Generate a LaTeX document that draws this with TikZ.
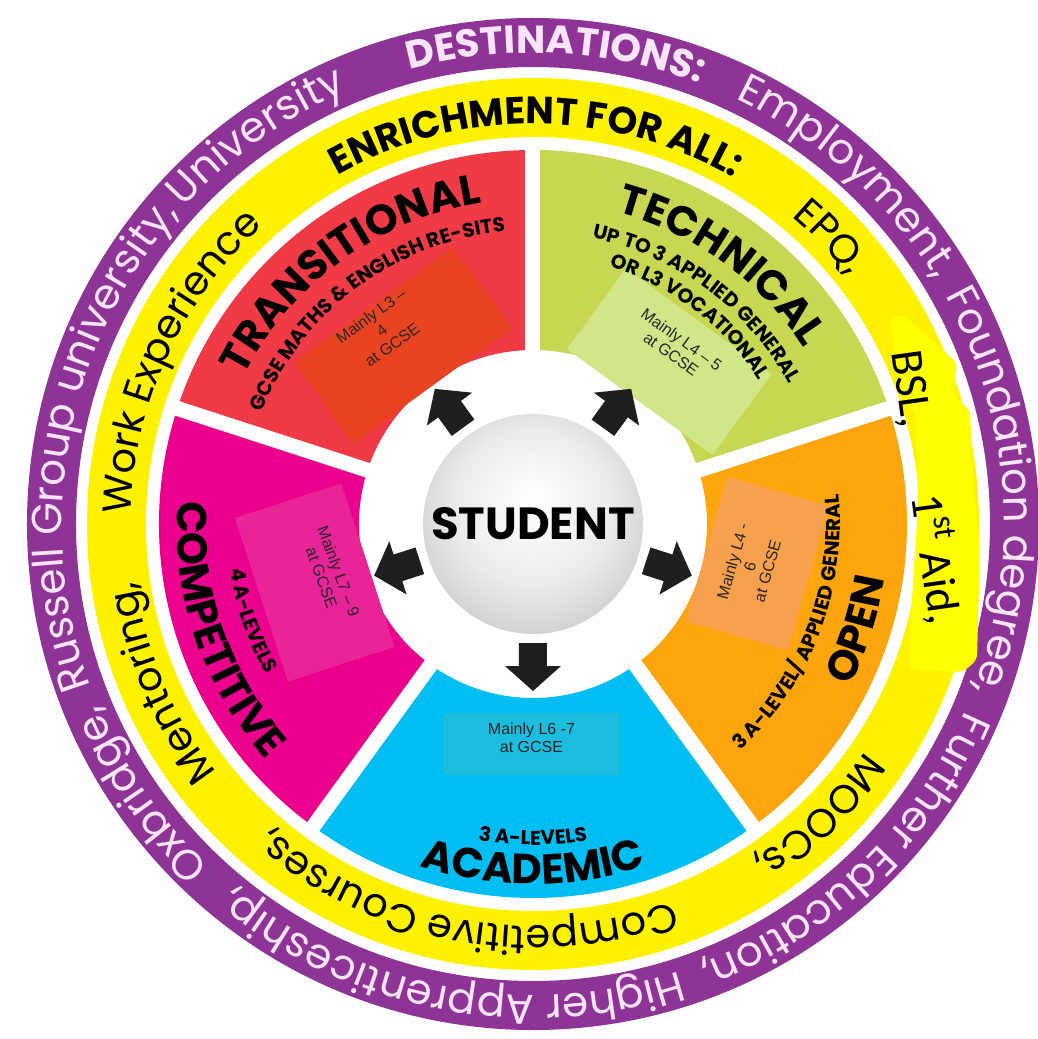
\documentclass[tikz,border=0pt]{standalone}
\usepackage{fontspec}
\setmainfont{Poppins}
\newfontfamily\boxfont{Liberation Sans}
\newfontfamily\aidfont{Carlito}
\usetikzlibrary{decorations.text}
\definecolor{ringpurple}{RGB}{142,52,150}
\definecolor{ringyellow}{RGB}{255,242,0}
\definecolor{ringtext}{RGB}{252,228,252}
\definecolor{transred}{RGB}{240,58,70}
\definecolor{techgreen}{RGB}{199,215,82}
\definecolor{openorange}{RGB}{253,165,12}
\definecolor{acadblue}{RGB}{0,190,242}
\definecolor{compmagenta}{RGB}{234,0,140}
\definecolor{transtint}{RGB}{232,68,34}
\definecolor{techtint}{RGB}{208,230,136}
\definecolor{opentint}{RGB}{247,160,78}
\definecolor{acadtint}{RGB}{28,188,222}
\definecolor{comptint}{RGB}{232,36,150}
\definecolor{aidyellow}{RGB}{255,255,0}
\pgfdeclareradialshading{studentball}{\pgfpoint{0bp}{6bp}}{color(0bp)=(white); color(18bp)=(black!8); color(38bp)=(black!28); color(50bp)=(black!50)}
\newcommand{\ringfont}{\fontsize{21}{25}\selectfont\color{ringtext}}
\newcommand{\destfont}{\bfseries\fontsize{19.5}{24}\selectfont\color{ringtext}}
\newcommand{\enrichfont}{\bfseries\fontsize{19}{23}\selectfont}
\newcommand{\yellowfont}{\fontsize{20}{24}\selectfont}
\newcommand{\titlefont}{\bfseries\fontsize{21}{25}\selectfont}
\newcommand{\subfont}{\bfseries\fontsize{10}{12}\selectfont}
\newcommand{\cwtext}[4]{\path[decorate, decoration={text along path, text align=center, text={|#3|#4}}]({#2+85}:#1)arc[start angle={#2+85}, end angle={#2-85}, radius=#1];}
\newcommand{\ccwtext}[4]{\path[decorate, decoration={text along path, text align=center, text={|#3|#4}}]({#2-85}:#1)arc[start angle={#2-85}, end angle={#2+85}, radius=#1];}

\begin{document}
\begin{tikzpicture}[x=.5pt, y=.5pt,
    gap/.style={white, line width=7.5pt},
    tint/.style={inner sep=0pt},
    grade/.style={font=\boxfont\fontsize{8}{9}\selectfont, align=center, text=black!85, inner sep=0pt}]
    \useasboundingbox(-533, -515)rectangle(505, 524);
    \fill[white](-533, -515)rectangle(505, 524);
    \fill[ringpurple, even odd rule](0, 0)circle[radius=506](0, 0)circle[radius=457];
    \fill[ringyellow, even odd rule](0, 0)circle[radius=446](0, 0)circle[radius=387];
    \foreach \a/\c in {90/transred, 162/compmagenta, 234/acadblue, 306/openorange, 18/techgreen}
        \fill[\c](\a:374)arc[start angle=\a, end angle=\a+72, radius=374]--({\a+72}:174)arc[start angle=\a+72, end angle=\a, radius=174]--cycle;
    \foreach \a in {18, 90, 162, 234, 306}
        \draw[gap](\a:160)--(\a:380);
    \node[tint, fill=transtint, rotate=36, minimum width=98pt, minimum height=50pt](transrect)at(126:221){};
    \node[tint, fill=techtint, rotate=-36, minimum width=90pt, minimum height=50pt](techrect)at(50:212){};
    \node[tint, fill=opentint, rotate=74, minimum width=75pt, minimum height=53pt](openrect)at(-10:228){};
    \node[tint, fill=acadtint, minimum width=88pt, minimum height=31pt](acadrect)at(269.5:220){};
    \node[tint, fill=comptint, rotate=-72, minimum width=86pt, minimum height=56pt](comprect)at(195:226){};
    \node[grade, rotate=36](transgrade)at(128:246){Mainly L3 –\\4\\at GCSE};
    \node[grade, rotate=-36](techgrade)at(51:228){Mainly L4 – 5\\at GCSE};
    \node[grade, rotate=74](opengrade)at(-11:221){Mainly L4 -\\6\\at GCSE};
    \node[grade](acadgrade)at(269.6:214){Mainly L6 -7\\at GCSE};
    \node[grade, rotate=-70](compgrade)at(194:209){Mainly L7 – 9\\at GCSE};
    \cwtext{471}{87.2}{\destfont}{DESTINATIONS:}
    \cwtext{471}{47.9}{\ringfont}{Employment,}
    \cwtext{471}{4.2}{\ringfont}{Foundation degree,}
    \cwtext{471}{-46.3}{\ringfont}{Further Education,}
    \cwtext{471}{-100.7}{\ringfont}{Higher Apprenticeship,}
    \cwtext{471}{-145.4}{\ringfont}{Oxbridge,}
    \cwtext{471}{169.5}{\ringfont}{Russell Group university,}
    \cwtext{471}{125.5}{\ringfont}{University}
    \cwtext{400}{89.6}{\enrichfont}{ENRICHMENT FOR ALL:}
    \cwtext{402}{44}{\yellowfont}{EPQ,}
    \cwtext{402}{-45.6}{\yellowfont}{MOOCs,}
    \cwtext{402}{-100.2}{\yellowfont}{Competitive Courses,}
    \cwtext{402}{-156.8}{\yellowfont}{Mentoring,}
    \cwtext{402}{155.4}{\yellowfont}{Work Experience}
    \cwtext{325}{126}{\titlefont}{TRANSITIONAL}
    \cwtext{294}{126.5}{\subfont}{GCSE MATHS {\&} ENGLISH RE-SITS}
    \cwtext{323}{54}{\titlefont}{TECHNICAL}
    \cwtext{292}{53.5}{\subfont}{UP TO 3 APPLIED GENERAL}
    \cwtext{268}{53}{\subfont}{OR L3 VOCATIONAL}
    \ccwtext{360}{270}{\titlefont}{ACADEMIC}
    \ccwtext{321}{270}{\subfont}{3 A-LEVELS}
    \ccwtext{356}{199}{\titlefont}{COMPETITIVE}
    \ccwtext{306}{199}{\subfont}{4 A-LEVELS}
    \ccwtext{356}{-18}{\titlefont}{OPEN}
    \ccwtext{307}{-21}{\subfont}{3 A-LEVEL/ APPLIED GENERAL}
    \node[circle, minimum size=110pt, inner sep=0pt, shade, shading=studentball, font=\bfseries\fontsize{22.5}{26}\selectfont](student)at(0, 0){STUDENT};
    \foreach \a in {126, 54, -18, 270, 198}
        \fill[black!88, rotate=\a](119, -14)--(142, -14)--(142, -28)--(167, 0)--(142, 28)--(142, 14)--(119, 14)--cycle;
    \fill[aidyellow, rounded corners=3pt](357, 207)--(370, 209)--(424, 161)--(420, 127)--(437, 114)--(440, 37)--(447, -23)--(444, -136)--(430, -148)--(377, -146)--(377, -106)--(385, 17)--(382, 114)--(367, 121)--(360, 181)--cycle;
    \node[font=\aidfont\fontsize{23}{28}\selectfont, rotate=-82, inner sep=0pt](aid)at(394, 37){BSL,\hspace{34pt}1\textsuperscript{st} Aid,};
\end{tikzpicture}
\end{document}
